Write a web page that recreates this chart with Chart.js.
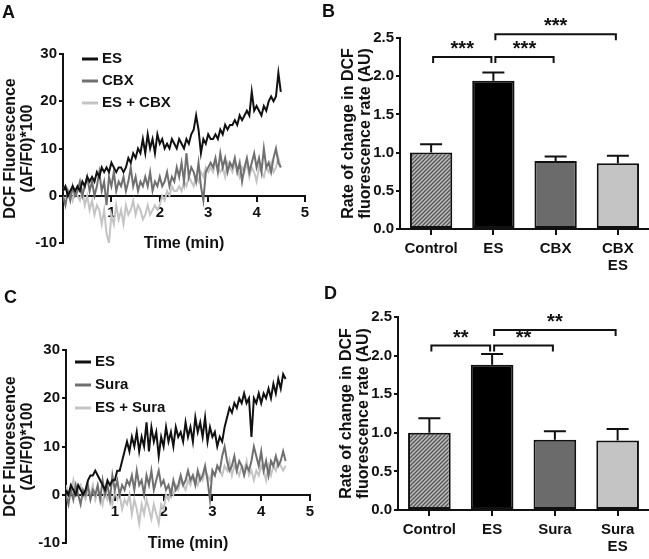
<!DOCTYPE html>
<html>
<head>
<meta charset="utf-8">
<script src="https://cdn.jsdelivr.net/npm/chart.js@4.4.0/dist/chart.umd.min.js"></script>
<style>
  body { margin: 0; background: #fff; width: 649px; height: 559px; position: relative; overflow: hidden; }
  canvas { position: absolute; }
  .tag { position: absolute; z-index: 2; font: bold 18px "Liberation Sans", Arial, sans-serif; color: #111; }
</style>
</head>
<body>
<div class="tag" style="left:2px;top:2px">A</div>
<div class="tag" style="left:322px;top:1px">B</div>
<div class="tag" style="left:4px;top:287px">C</div>
<div class="tag" style="left:324px;top:283px">D</div>
<canvas id="chartA" width="320" height="280" style="left:0;top:0"></canvas>
<canvas id="chartB" width="329" height="280" style="left:320px;top:0"></canvas>
<canvas id="chartC" width="320" height="279" style="left:0;top:280px"></canvas>
<canvas id="chartD" width="329" height="279" style="left:320px;top:280px"></canvas>
<script>
// sampled every 0.05 min, 0 to 4.5 min
const sampleStep = 0.05;

// panel A traces
const esA = [1,2,0,1,2,1,2,1,3,2, 4,3,4,3,5,4,6,5,6,5, 7,6,5,6,6,5,6,8,7,9,
  8,10,9,12,9,13,10,12,9,13, 11,12,10,11,10,12,11,10,12,11, 10,12,11,13,14,17,14,9,12,11,
  13,12,12,13,12,14,13,15,14,15, 15,16,15,17,16,17,18,17,22,18, 19,18,17,19,18,20,21,20,21,26, 22];
const cbxA = [0,-2,1,-1,2,0,1,3,0,2, 4,1,3,0,2,5,1,3,-2,4, 2,5,1,3,2,4,1,3,6,2,
  4,1,3,2,4,2,5,1,3,2, 4,2,3,5,2,4,3,6,4,7, 3,9,4,6,5,3,7,2,-1,5,
  6,7,6,8,5,9,6,8,5,7, 6,8,5,7,3,6,8,5,7,9, 6,8,5,10,6,7,5,8,10,7, 6];
const esCbxA = [1,2,0,1,-1,1,0,-1,1,-2, 0,-3,-1,-4,-2,-3,-6,-3,-8,-10, -4,-6,-2,-5,-3,-6,-2,-4,-3,-1,
  -4,-2,-3,-5,-4,-2,-4,-3,-2,-3, -2,0,-1,1,0,2,1,1,2,1, 3,2,4,3,2,4,3,5,4,6,
  5,6,5,7,6,5,6,4,7,6, 5,7,6,4,6,5,7,4,6,5, 3,6,5,4,6,5,7,5,6,8, 6];

// panel C traces
const esC = [1,0,2,1,0,2,1,0,1,3, 4,4,5,4,3,2,1,3,2,3, 3,5,5,7,9,11,9,12,10,13,
  9,12,10,15,9,14,11,13,8,12, 10,14,11,13,10,14,12,13,11,15, 12,14,11,16,13,15,12,16,11,14,
  12,13,10,12,11,14,16,18,17,19, 18,20,19,21,19,20,12,20,19,21, 19,21,20,22,20,23,21,24,22,25, 24];
const suraC = [0,-2,1,-1,2,0,-2,1,0,2, -1,1,0,2,-1,3,0,2,-1,4, 1,3,0,2,1,3,2,4,1,5,
  2,3,0,4,2,5,1,3,5,2, 3,1,2,0,3,1,2,4,2,3, 5,3,4,2,5,3,4,6,3,-1,
  5,4,6,5,8,10,7,5,6,8, 5,7,6,4,6,5,7,10,8,6, 9,5,7,4,7,6,8,6,7,9, 7];
const esSuraC = [2,0,1,3,0,1,2,0,-1,1, 0,2,-1,1,0,-2,1,-1,0,-2, 1,-1,0,-3,-1,-2,0,-4,-1,-3,
  -6,-2,-4,-1,-3,-5,-2,-4,-6,-2, -3,0,-1,1,0,2,1,3,2,1, 3,2,4,3,2,4,3,5,4,3,
  5,4,6,5,4,6,5,7,4,6, 5,4,6,5,7,4,5,3,5,4, 6,5,3,6,4,6,5,7,6,5, 6];

const traceColors = ['#111111', '#707070', '#c4c4c4'];

// panel B / D bars
const groupsB = ['Control', 'ES', 'CBX', ['CBX', 'ES']];
const meanB = [1.00, 1.94, 0.89, 0.86];
const semB = [0.11, 0.11, 0.06, 0.10];
const sigB = [[0, 1, '***', 2.25], [1, 2, '***', 2.25], [1, 3, '***', 2.55]];

const groupsD = ['Control', 'ES', 'Sura', ['Sura', 'ES']];
const meanD = [1.00, 1.88, 0.91, 0.90];
const semD = [0.19, 0.14, 0.11, 0.15];
const sigD = [[0, 1, '**', 2.13], [1, 2, '**', 2.13], [1, 3, '**', 2.33]];

const FONT = '"Liberation Sans", Arial, sans-serif';
Chart.defaults.font.family = FONT;
Chart.defaults.color = '#111';

function hatchFill() {
  const c = document.createElement('canvas');
  c.width = 4; c.height = 4;
  const g = c.getContext('2d');
  g.fillStyle = '#bdbdbd';
  g.fillRect(0, 0, 4, 4);
  g.strokeStyle = '#555555';
  g.lineWidth = 1.3;
  g.beginPath();
  g.moveTo(-1, 5); g.lineTo(5, -1);
  g.moveTo(-1, 1); g.lineTo(1, -1);
  g.moveTo(3, 5); g.lineTo(5, 3);
  g.stroke();
  return g.createPattern(c, 'repeat');
}

const traceKey = {
  id: 'traceKey',
  afterDraw(chart, args, opts) {
    const { ctx, chartArea } = chart;
    ctx.save();
    ctx.font = 'bold 15px ' + FONT;
    ctx.textBaseline = 'middle';
    chart.data.datasets.forEach((ds, i) => {
      const x = chartArea.left + opts.left;
      const y = chartArea.top + opts.top + i * opts.gap;
      ctx.strokeStyle = ds.borderColor;
      ctx.lineWidth = 3;
      ctx.beginPath();
      ctx.moveTo(x, y);
      ctx.lineTo(x + 16, y);
      ctx.stroke();
      ctx.fillStyle = '#111';
      ctx.fillText(ds.label, x + opts.textGap, y);
    });
    ctx.restore();
  }
};

const errorCaps = {
  id: 'errorCaps',
  afterDatasetsDraw(chart, args, opts) {
    const { ctx } = chart;
    const y = chart.scales.y;
    const meta = chart.getDatasetMeta(0);
    ctx.save();
    ctx.strokeStyle = '#111';
    ctx.lineWidth = 2;
    meta.data.forEach((bar, i) => {
      const top = y.getPixelForValue(opts.means[i] + opts.sems[i]);
      ctx.beginPath();
      ctx.moveTo(bar.x, bar.y);
      ctx.lineTo(bar.x, top);
      ctx.moveTo(bar.x - 11, top);
      ctx.lineTo(bar.x + 11, top);
      ctx.stroke();
    });
    ctx.restore();
  }
};

const sigBrackets = {
  id: 'sigBrackets',
  afterDraw(chart, args, opts) {
    const { ctx } = chart;
    const yScale = chart.scales.y;
    const meta = chart.getDatasetMeta(0);
    ctx.save();
    ctx.strokeStyle = '#111';
    ctx.fillStyle = '#111';
    ctx.lineWidth = 2;
    ctx.font = 'bold 20px ' + FONT;
    ctx.textAlign = 'center';
    ctx.textBaseline = 'alphabetic';
    opts.pairs.forEach(([a, b, mark, level]) => {
      const xa = meta.data[a].x + 2;
      const xb = meta.data[b].x - 2;
      const y = yScale.getPixelForValue(level);
      ctx.beginPath();
      ctx.moveTo(xa, y + 6);
      ctx.lineTo(xa, y);
      ctx.lineTo(xb, y);
      ctx.lineTo(xb, y + 6);
      ctx.stroke();
      ctx.fillText(mark, (xa + xb) / 2, y - 2);
    });
    ctx.restore();
  }
};

function traceChart(id, series, names, geo) {
  const datasets = series.map((vals, k) => ({
    label: names[k],
    data: vals.map((v, i) => ({ x: i * sampleStep, y: v })),
    borderColor: traceColors[k],
    borderWidth: 2,
    pointRadius: 0,
    tension: 0
  }));
  return new Chart(document.getElementById(id), {
    type: 'line',
    data: { datasets },
    options: {
      responsive: false,
      animation: false,
      layout: { padding: geo.pad },
      plugins: {
        legend: { display: false },
        tooltip: { enabled: false },
        traceKey: geo.key
      },
      scales: {
        x: {
          type: 'linear',
          min: 0,
          max: 5,
          position: { y: 0 },
          grid: { drawOnChartArea: false, tickLength: 5, color: '#111', lineWidth: 2 },
          border: { color: '#111', width: 2 },
          ticks: {
            stepSize: 1,
            padding: 3,
            font: { size: 15, weight: 'bold' },
            callback: v => (v === 0 ? '' : v)
          },
          title: {
            display: true,
            text: 'Time (min)',
            font: { size: 16, weight: 'bold' },
            padding: { top: geo.xTitleGap, bottom: 0 }
          }
        },
        y: {
          min: -10,
          max: 30,
          grid: { drawOnChartArea: false, tickLength: 4, color: '#111', lineWidth: 2 },
          border: { color: '#111', width: 2 },
          ticks: { stepSize: 10, padding: 2, font: { size: 15, weight: 'bold' } },
          title: {
            display: true,
            text: ['DCF Fluorescence', '(\u0394F/F0)*100'],
            font: { size: 16, weight: 'bold', lineHeight: 1.05 },
            padding: { top: geo.yTitleGap, bottom: 0 }
          },
          afterFit: s => { s.width = geo.yWidth; }
        }
      }
    },
    plugins: [traceKey]
  });
}

function barChart(id, groups, means, sems, pairs, geo) {
  const canvas = document.getElementById(id);
  return new Chart(canvas, {
    type: 'bar',
    data: {
      labels: groups,
      datasets: [{
        data: means,
        backgroundColor: [hatchFill(), '#000000', '#6b6b6b', '#c4c4c4'],
        borderColor: '#111',
        borderWidth: 2,
        borderSkipped: false,
        barPercentage: 0.68,
        categoryPercentage: 1.0
      }]
    },
    options: {
      responsive: false,
      animation: false,
      layout: { padding: geo.pad },
      plugins: {
        legend: { display: false },
        tooltip: { enabled: false },
        errorCaps: { means, sems },
        sigBrackets: { pairs }
      },
      scales: {
        x: {
          grid: { drawOnChartArea: false, offset: false, tickLength: 6, color: '#111', lineWidth: 2 },
          border: { color: '#111', width: 2 },
          ticks: { padding: 5, font: { size: 15, weight: 'bold', lineHeight: 1.15 } },
          afterFit: s => { s.height = geo.xHeight; }
        },
        y: {
          min: 0,
          max: 2.5,
          grid: { drawOnChartArea: false, tickLength: 4, color: '#111', lineWidth: 2 },
          border: { color: '#111', width: 2 },
          ticks: { stepSize: 0.5, padding: 2, font: { size: 15, weight: 'bold' }, callback: v => v.toFixed(1) },
          title: {
            display: true,
            text: ['Rate of change in DCF', 'fluorescence rate (AU)'],
            font: { size: 16, weight: 'bold', lineHeight: 1.05 },
            padding: { top: geo.yTitleGap, bottom: 0 }
          },
          afterFit: s => { s.width = geo.yWidth; }
        }
      }
    },
    plugins: [errorCaps, sigBrackets]
  });
}

traceChart('chartA', [esA, cbxA, esCbxA], ['ES', 'CBX', 'ES + CBX'], {
  pad: { left: 0, right: 15, top: 54, bottom: 37 },
  yWidth: 63, yTitleGap: 2, xTitleGap: 9,
  key: { left: 19, top: 5, gap: 22, textGap: 20 }
});

traceChart('chartC', [esC, suraC, esSuraC], ['ES', 'Sura', 'ES + Sura'], {
  pad: { left: 0, right: 10, top: 70, bottom: 16 },
  yWidth: 66, yTitleGap: 2, xTitleGap: 10,
  key: { left: 9, top: 12, gap: 23, textGap: 20 }
});

barChart('chartB', groupsB, meanB, semB, sigB, {
  pad: { left: 0, right: 0, top: 38, bottom: 0 },
  yWidth: 80, xHeight: 51, yTitleGap: 20
});

barChart('chartD', groupsD, meanD, semD, sigD, {
  pad: { left: 0, right: 0, top: 37, bottom: 0 },
  yWidth: 78, xHeight: 49, yTitleGap: 18
});
</script>
</body>
</html>
